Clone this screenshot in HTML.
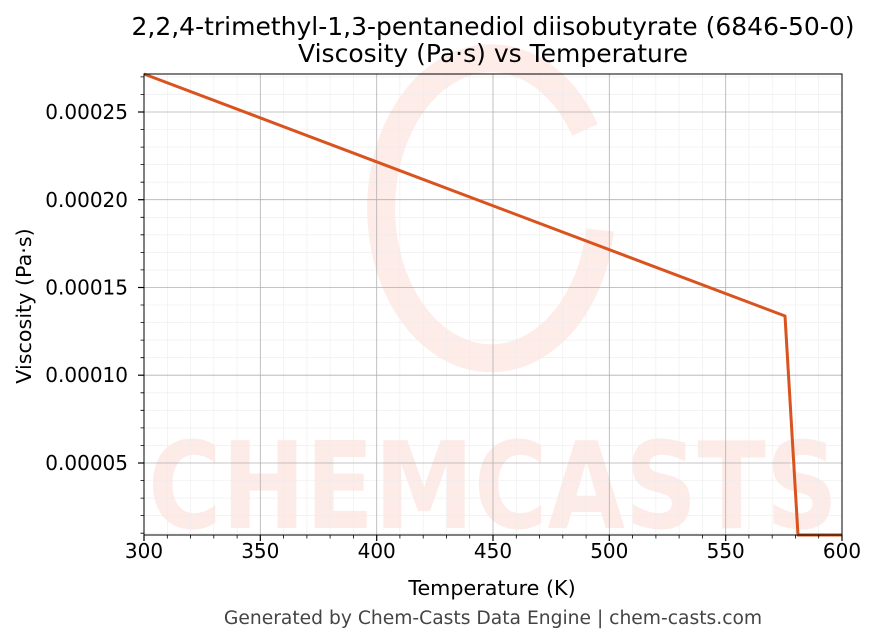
<!DOCTYPE html>
<html><head><meta charset="utf-8"><style>
body{margin:0;background:#fff;}
svg{display:block;font-family:"DejaVu Sans","Liberation Sans",sans-serif;}
</style></head><body>
<svg width="876" height="644" viewBox="0 0 876 644" xmlns="http://www.w3.org/2000/svg">
<rect width="876" height="644" fill="#fff"/>
<g opacity="0.2" fill="#f8a090">
<path d="M 585 130 A 110 150 0 1 0 600 230" fill="none" stroke="#f8a090" stroke-width="28"/>
<text x="148" y="528" font-size="120" font-weight="bold" textLength="690" lengthAdjust="spacingAndGlyphs">CHEMCASTS</text>
</g>
<g stroke="#ececec" stroke-width="0.6">
<line x1="167.3" y1="74" x2="167.3" y2="535"/><line x1="190.5" y1="74" x2="190.5" y2="535"/><line x1="213.8" y1="74" x2="213.8" y2="535"/><line x1="237.1" y1="74" x2="237.1" y2="535"/>
<line x1="283.6" y1="74" x2="283.6" y2="535"/><line x1="306.9" y1="74" x2="306.9" y2="535"/><line x1="330.1" y1="74" x2="330.1" y2="535"/><line x1="353.4" y1="74" x2="353.4" y2="535"/>
<line x1="399.9" y1="74" x2="399.9" y2="535"/><line x1="423.2" y1="74" x2="423.2" y2="535"/><line x1="446.5" y1="74" x2="446.5" y2="535"/><line x1="469.7" y1="74" x2="469.7" y2="535"/>
<line x1="516.3" y1="74" x2="516.3" y2="535"/><line x1="539.5" y1="74" x2="539.5" y2="535"/><line x1="562.8" y1="74" x2="562.8" y2="535"/><line x1="586.1" y1="74" x2="586.1" y2="535"/>
<line x1="632.6" y1="74" x2="632.6" y2="535"/><line x1="655.9" y1="74" x2="655.9" y2="535"/><line x1="679.1" y1="74" x2="679.1" y2="535"/><line x1="702.4" y1="74" x2="702.4" y2="535"/>
<line x1="748.9" y1="74" x2="748.9" y2="535"/><line x1="772.2" y1="74" x2="772.2" y2="535"/><line x1="795.5" y1="74" x2="795.5" y2="535"/><line x1="818.7" y1="74" x2="818.7" y2="535"/>
<line x1="144" y1="533.2" x2="842" y2="533.2"/><line x1="144" y1="515.6" x2="842" y2="515.6"/><line x1="144" y1="498.1" x2="842" y2="498.1"/><line x1="144" y1="480.5" x2="842" y2="480.5"/>
<line x1="144" y1="445.4" x2="842" y2="445.4"/><line x1="144" y1="427.9" x2="842" y2="427.9"/><line x1="144" y1="410.3" x2="842" y2="410.3"/><line x1="144" y1="392.8" x2="842" y2="392.8"/>
<line x1="144" y1="357.7" x2="842" y2="357.7"/><line x1="144" y1="340.1" x2="842" y2="340.1"/><line x1="144" y1="322.6" x2="842" y2="322.6"/><line x1="144" y1="305.0" x2="842" y2="305.0"/>
<line x1="144" y1="269.9" x2="842" y2="269.9"/><line x1="144" y1="252.4" x2="842" y2="252.4"/><line x1="144" y1="234.8" x2="842" y2="234.8"/><line x1="144" y1="217.3" x2="842" y2="217.3"/>
<line x1="144" y1="182.2" x2="842" y2="182.2"/><line x1="144" y1="164.6" x2="842" y2="164.6"/><line x1="144" y1="147.1" x2="842" y2="147.1"/><line x1="144" y1="129.5" x2="842" y2="129.5"/>
<line x1="144" y1="94.4" x2="842" y2="94.4"/><line x1="144" y1="76.9" x2="842" y2="76.9"/>
</g>
<g stroke="#b0b0b0" stroke-width="0.8">
<line x1="260.3" y1="74" x2="260.3" y2="535"/><line x1="376.7" y1="74" x2="376.7" y2="535"/><line x1="493" y1="74" x2="493" y2="535"/><line x1="609.3" y1="74" x2="609.3" y2="535"/><line x1="725.7" y1="74" x2="725.7" y2="535"/>
<line x1="144" y1="463" x2="842" y2="463"/><line x1="144" y1="375.2" x2="842" y2="375.2"/><line x1="144" y1="287.5" x2="842" y2="287.5"/><line x1="144" y1="199.7" x2="842" y2="199.7"/><line x1="144" y1="112" x2="842" y2="112"/>
</g>
<polyline points="144,74 785,316 798,535 842,535" fill="none" stroke="#d9531e" stroke-width="3" stroke-linejoin="round"/>
<rect x="144" y="74" width="698" height="461" fill="none" stroke="#000" stroke-width="1"/>
<g stroke="#000" stroke-width="1.2">
<line x1="144" y1="535" x2="144" y2="541"/><line x1="260.3" y1="535" x2="260.3" y2="541"/><line x1="376.7" y1="535" x2="376.7" y2="541"/><line x1="493" y1="535" x2="493" y2="541"/><line x1="609.3" y1="535" x2="609.3" y2="541"/><line x1="725.7" y1="535" x2="725.7" y2="541"/><line x1="842" y1="535" x2="842" y2="541"/>
<line x1="138" y1="463" x2="144" y2="463"/><line x1="138" y1="375.2" x2="144" y2="375.2"/><line x1="138" y1="287.5" x2="144" y2="287.5"/><line x1="138" y1="199.7" x2="144" y2="199.7"/><line x1="138" y1="112" x2="144" y2="112"/>
</g>
<g stroke="#000" stroke-width="0.8">
<path d="M167.3 535v3.5M190.5 535v3.5M213.8 535v3.5M237.1 535v3.5M283.6 535v3.5M306.9 535v3.5M330.1 535v3.5M353.4 535v3.5M399.9 535v3.5M423.2 535v3.5M446.5 535v3.5M469.7 535v3.5M516.3 535v3.5M539.5 535v3.5M562.8 535v3.5M586.1 535v3.5M632.6 535v3.5M655.9 535v3.5M679.1 535v3.5M702.4 535v3.5M748.9 535v3.5M772.2 535v3.5M795.5 535v3.5M818.7 535v3.5"/>
<path d="M140.5 533.2h3.5M140.5 515.6h3.5M140.5 498.1h3.5M140.5 480.5h3.5M140.5 445.4h3.5M140.5 427.9h3.5M140.5 410.3h3.5M140.5 392.8h3.5M140.5 357.7h3.5M140.5 340.1h3.5M140.5 322.6h3.5M140.5 305h3.5M140.5 269.9h3.5M140.5 252.4h3.5M140.5 234.8h3.5M140.5 217.3h3.5M140.5 182.2h3.5M140.5 164.6h3.5M140.5 147.1h3.5M140.5 129.5h3.5M140.5 94.4h3.5M140.5 76.9h3.5"/>
</g>
<g font-size="20" fill="#000">
<g text-anchor="middle">
<text x="144" y="558">300</text><text x="260.3" y="558">350</text><text x="376.7" y="558">400</text><text x="493" y="558">450</text><text x="609.3" y="558">500</text><text x="725.7" y="558">550</text><text x="842" y="558">600</text>
<text x="492" y="595" font-size="20.7">Temperature (K)</text>
<text x="493" y="35" font-size="25">2,2,4-trimethyl-1,3-pentanediol diisobutyrate (6846-50-0)</text>
<text x="493" y="62" font-size="25">Viscosity (Pa·s) vs Temperature</text>
<text x="493" y="624" font-size="18.7" fill="#444">Generated by Chem-Casts Data Engine | chem-casts.com</text>
</g>
<g text-anchor="end">
<text x="128" y="470">0.00005</text><text x="128" y="382">0.00010</text><text x="128" y="294.5">0.00015</text><text x="128" y="207">0.00020</text><text x="128" y="119">0.00025</text>
</g>
<text transform="translate(31,306) rotate(-90)" text-anchor="middle" font-size="20.7">Viscosity (Pa·s)</text>
</g>
</svg>
</body></html>
